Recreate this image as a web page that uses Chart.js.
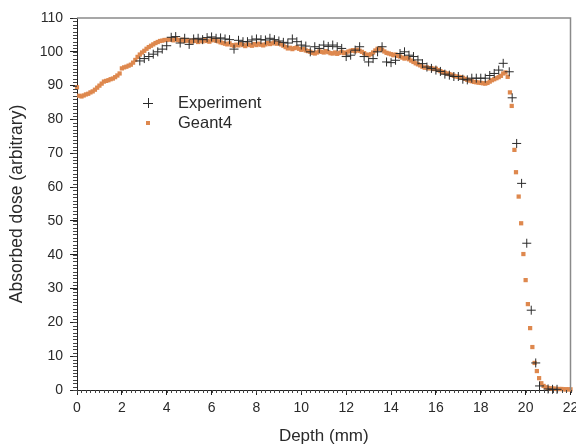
<!DOCTYPE html>
<html>
<head>
<meta charset="utf-8">
<script src="https://cdn.jsdelivr.net/npm/chart.js@4/dist/chart.umd.min.js"></script>
<style>
html,body{margin:0;padding:0;background:#fff;}
#wrap{width:576px;height:445px;}
</style>
</head>
<body>
<div id="wrap"><canvas id="c" width="576" height="445"></canvas></div>
<script>
// ---- data ----
const expDepth = [2.8,3.0,3.2,3.4,3.6,3.8,4.0,4.2,4.4,4.6,4.8,5.0,5.2,5.4,5.6,5.8,6.0,6.2,6.4,6.6,6.8,7.0,7.2,7.4,7.6,7.8,8.0,8.2,8.4,8.6,8.8,9.0,9.2,9.4,9.6,9.8,10.0,10.2,10.4,10.6,10.8,11.0,11.2,11.4,11.6,11.8,12.0,12.2,12.4,12.6,12.8,13.0,13.2,13.4,13.6,13.8,14.0,14.2,14.4,14.6,14.8,15.0,15.2,15.4,15.6,15.8,16.0,16.2,16.4,16.6,16.8,17.0,17.2,17.4,17.6,17.8,18.0,18.2,18.4,18.6,18.8,19.0,19.27,19.4,19.6,19.82,20.05,20.25,20.45,20.62,21.0,21.2,21.4];
const expDose = [97.3,98.0,98.6,99.3,100.0,100.8,101.8,104.3,104.5,102.6,104.0,102.2,103.8,104.0,103.6,104.2,104.4,104.0,104.1,103.8,103.6,100.8,103.4,103.0,103.0,103.5,103.8,103.6,103.5,104.0,103.6,103.2,102.8,102.6,103.8,103.0,102.0,101.7,100.0,101.5,101.0,102.0,101.6,102.0,101.5,101.0,98.6,99.0,100.5,101.5,98.6,97.0,98.0,100.0,101.5,97.0,96.8,97.5,99.5,100.0,99.0,98.6,97.6,96.5,95.5,95.1,94.6,94.2,93.4,93.1,92.7,92.7,91.9,91.7,92.2,92.2,92.2,92.2,93.0,93.6,94.6,96.6,94.1,86.4,72.9,61.1,43.4,23.6,8.0,1.2,0.3,0.2,0.2];

const g4Depth = [0.0,0.1,0.2,0.3,0.4,0.5,0.6,0.7,0.8,0.9,
1.0,1.1,1.2,1.3,1.4,1.5,1.6,1.7,1.8,1.9,
2.0,2.1,2.2,2.3,2.4,2.5,2.6,2.7,2.8,2.9,
3.0,3.1,3.2,3.3,3.4,3.5,3.6,3.7,3.8,3.9,
4.0,4.1,4.2,4.3,4.4,4.5,4.6,4.7,4.8,4.9,
5.0,5.1,5.2,5.3,5.4,5.5,5.6,5.7,5.8,5.9,
6.0,6.1,6.2,6.3,6.4,6.5,6.6,6.7,6.8,6.9,
7.0,7.1,7.2,7.3,7.4,7.5,7.6,7.7,7.8,7.9,
8.0,8.1,8.2,8.3,8.4,8.5,8.6,8.7,8.8,8.9,
9.0,9.1,9.2,9.3,9.4,9.5,9.6,9.7,9.8,9.9,
10.0,10.1,10.2,10.3,10.4,10.5,10.6,10.7,10.8,10.9,
11.0,11.1,11.2,11.3,11.4,11.5,11.6,11.7,11.8,11.9,
12.0,12.1,12.2,12.3,12.4,12.5,12.6,12.7,12.8,12.9,
13.0,13.1,13.2,13.3,13.4,13.5,13.6,13.7,13.8,13.9,
14.0,14.1,14.2,14.3,14.4,14.5,14.6,14.7,14.8,14.9,
15.0,15.1,15.2,15.3,15.4,15.5,15.6,15.7,15.8,15.9,
16.0,16.1,16.2,16.3,16.4,16.5,16.6,16.7,16.8,16.9,
17.0,17.1,17.2,17.3,17.4,17.5,17.6,17.7,17.8,17.9,
18.0,18.1,18.2,18.3,18.4,18.5,18.6,18.7,18.8,18.9,
19.0,19.1,19.2,19.3,19.38,19.5,19.57,19.69,19.8,19.9,
20.0,20.1,20.2,20.3,20.4,20.5,20.6,20.7,20.8,20.9,
21.0,21.1,21.2,21.3,21.4,21.5,21.6,21.7,21.8,21.9,22.0];
const g4Dose = [89.5,87.0,86.8,87.1,87.4,87.6,88.0,88.3,88.8,89.4,
90.0,90.6,91.2,91.4,91.6,91.9,92.1,92.5,93.0,93.6,
95.1,95.4,95.6,95.9,96.2,96.8,97.6,98.5,99.2,99.8,
100.3,100.9,101.4,101.8,102.2,102.6,102.9,103.2,103.3,103.5,
103.5,103.7,103.6,103.4,103.8,103.5,103.3,103.6,103.2,103.4,
103.3,103.0,103.4,103.2,102.9,103.3,103.1,103.5,103.2,103.0,
103.4,103.6,103.3,103.1,102.8,102.6,102.4,102.2,102.5,102.0,
101.8,102.1,101.9,102.3,102.0,101.7,102.2,102.0,101.8,102.3,
102.0,102.4,102.1,101.9,102.2,102.6,102.3,102.5,102.8,102.4,
102.6,102.2,101.8,101.4,101.0,101.2,100.8,101.1,101.3,100.9,
100.6,100.8,100.4,100.2,100.0,99.7,99.5,99.8,100.1,100.0,
99.8,100.2,99.9,99.6,99.5,99.8,99.4,99.7,100.0,99.6,
99.8,100.1,100.3,100.5,100.2,100.6,100.3,100.0,99.6,99.2,
99.0,99.3,99.8,100.4,100.9,101.0,100.6,100.1,99.7,99.5,
99.3,99.0,99.2,98.8,98.6,98.3,98.0,98.2,97.8,97.4,
97.0,96.6,96.3,96.0,95.6,95.3,95.4,95.1,95.2,94.9,
95.0,94.6,94.3,94.0,93.8,93.6,93.4,93.2,92.9,92.7,
92.6,92.5,92.3,92.0,91.7,91.5,91.3,91.1,91.0,90.9,
90.8,90.7,90.6,90.8,91.2,91.6,91.9,92.2,92.5,92.9,
93.6,93.9,92.6,88.0,84.0,71.0,64.4,57.2,49.3,40.2,
32.5,25.4,18.3,12.7,8.0,5.6,3.5,2.0,1.2,0.8,
0.6,0.5,0.4,0.4,0.3,0.3,0.3,0.2,0.2,0.2,0.2];

const xTickValues = [0,2,4,6,8,10,12,14,16,18,20,22];
const yTickValues = [0,10,20,30,40,50,60,70,80,90,100,110];
const seriesNames = ['Experiment','Geant4'];
const axisTitles = {x:'Depth (mm)', y:'Absorbed dose (arbitrary)'};

// ---- style ----
const FONT = "'Liberation Sans', Arial, sans-serif";
const ORANGE = 'rgb(222,136,78)';
const DARK = '#2a2a2a';

const toPts = (xs, ys) => xs.map((v, i) => ({x: v, y: ys[i]}));

const decor = {
  id: 'decor',
  afterDraw(chart) {
    const {ctx, chartArea: a, scales: {x, y}} = chart;
    ctx.save();
    // top & right frame
    ctx.strokeStyle = '#8a8a8a';
    ctx.lineWidth = 1.5;
    ctx.beginPath();
    ctx.moveTo(a.left, a.top); ctx.lineTo(a.right, a.top); ctx.lineTo(a.right, a.bottom);
    ctx.stroke();
    // minor ticks
    ctx.strokeStyle = '#444';
    ctx.lineWidth = 1;
    ctx.beginPath();
    for (let i = 0; i <= 110; i++) {
      const v = i * 0.2;
      if (v > 22.0001) break;
      const px = Math.round(x.getPixelForValue(v)) + 0.5;
      ctx.moveTo(px, a.bottom); ctx.lineTo(px, a.bottom + 3);
    }
    for (let v = 0; v <= 110; v++) {
      const py = Math.round(y.getPixelForValue(v)) + 0.5;
      ctx.moveTo(a.left - 4, py); ctx.lineTo(a.left, py);
    }
    ctx.stroke();
    // legend
    const lx = 148, ly1 = 103, ly2 = 123;
    ctx.strokeStyle = DARK; ctx.lineWidth = 1;
    ctx.beginPath();
    ctx.moveTo(lx - 5, ly1 + 0.5); ctx.lineTo(lx + 5, ly1 + 0.5);
    ctx.moveTo(lx + 0.5, ly1 - 5); ctx.lineTo(lx + 0.5, ly1 + 5);
    ctx.stroke();
    ctx.fillStyle = ORANGE;
    ctx.fillRect(lx - 2, ly2 - 2, 4, 4);
    ctx.fillStyle = DARK;
    ctx.font = '16.5px ' + FONT;
    ctx.textBaseline = 'middle';
    ctx.textAlign = 'left';
    ctx.fillText(chart.data.datasets[0].label, 178, ly1);
    ctx.fillText(chart.data.datasets[1].label, 178, ly2);
    ctx.restore();
  }
};

new Chart(document.getElementById('c'), {
  type: 'scatter',
  data: {
    datasets: [
      {label: seriesNames[0], data: toPts(expDepth, expDose), pointStyle: 'cross', pointRadius: 4.5,
       borderColor: DARK, borderWidth: 1, backgroundColor: DARK, showLine: false, clip: false},
      {label: seriesNames[1], data: toPts(g4Depth, g4Dose), pointStyle: 'rect', pointRadius: 3,
       borderWidth: 0, backgroundColor: ORANGE, borderColor: ORANGE, showLine: false, clip: false}
    ]
  },
  options: {
    responsive: false,
    devicePixelRatio: 1,
    animation: false,
    events: [],
    layout: {padding: {top: 18, right: 3, left: 0, bottom: 0}},
    plugins: {legend: {display: false}, tooltip: {enabled: false}},
    scales: {
      x: {
        type: 'linear', min: 0, max: 22,
        afterBuildTicks: s => { s.ticks = xTickValues.map(v => ({value: v})); },
        afterFit: s => { s.height = 55; s.paddingRight = 0; s.paddingLeft = 0; },
        ticks: {color: DARK, font: {family: FONT, size: 14}, padding: 5, maxRotation: 0, autoSkip: false},
        grid: {display: true, drawOnChartArea: false, drawTicks: true, tickLength: 5, tickColor: '#222', tickWidth: 1},
        border: {display: true, color: '#222', width: 1},
        title: {display: true, text: axisTitles.x, color: DARK, font: {family: FONT, size: 17, lineHeight: 1.0}, padding: {top: 0, bottom: 0}}
      },
      y: {
        type: 'linear', min: 0, max: 110,
        afterBuildTicks: s => { s.ticks = yTickValues.map(v => ({value: v})); },
        afterFit: s => { s.width = 77; },
        ticks: {color: DARK, font: {family: FONT, size: 14}, padding: 7, autoSkip: false},
        grid: {display: true, drawOnChartArea: false, drawTicks: true, tickLength: 7, tickColor: '#222', tickWidth: 1},
        border: {display: true, color: '#222', width: 1},
        title: {display: true, text: axisTitles.y, color: DARK, font: {family: FONT, size: 17.5}, padding: {top: 7, bottom: 0}}
      }
    }
  },
  plugins: [decor]
});
</script>
</body>
</html>
